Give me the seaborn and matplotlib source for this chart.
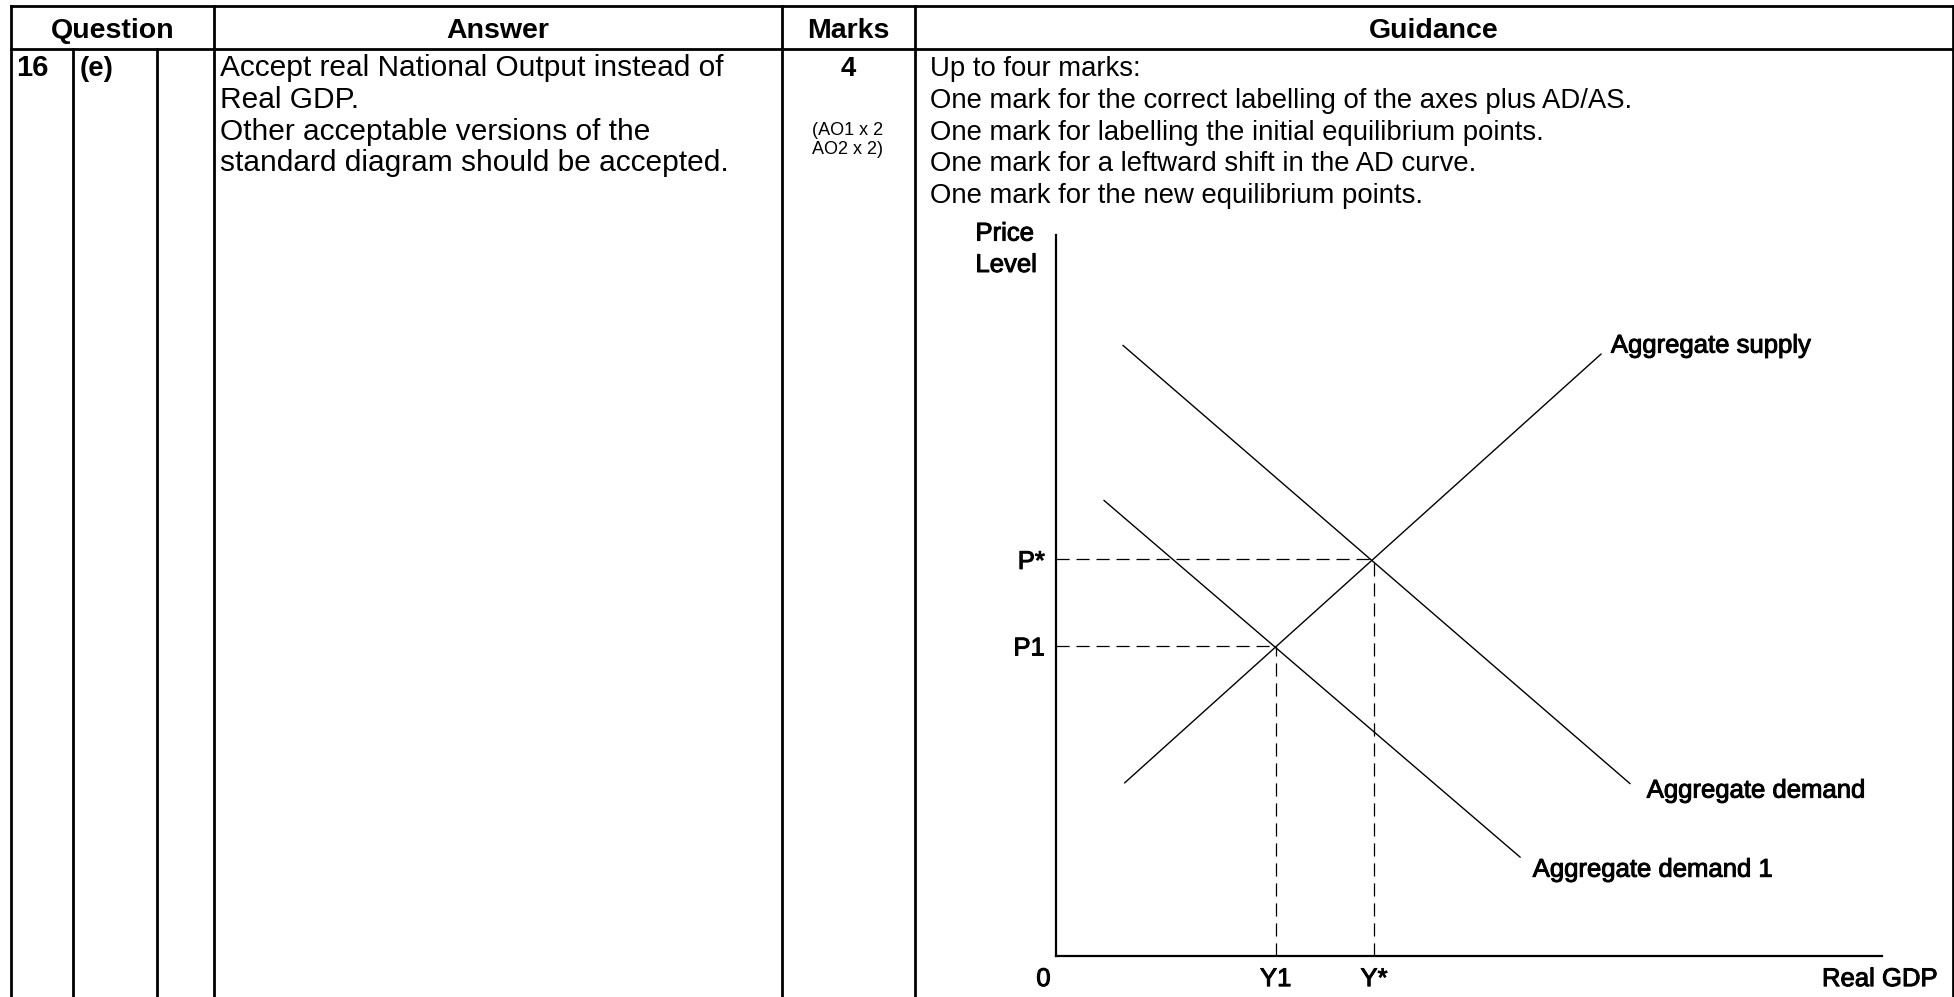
import numpy as np
import pandas as pd
import matplotlib
matplotlib.use("Agg")
import matplotlib.pyplot as plt
import matplotlib.patheffects as pe
import seaborn as sns

# ---------------- data ----------------
header_labels = ["Question", "Answer", "Marks", "Guidance"]
question_number = "16"
question_part = "(e)"
answer_lines = [
    "Accept real National Output instead of",
    "Real GDP.",
    "Other acceptable versions of the",
    "standard diagram should be accepted.",
]
marks_value = "4"
marks_breakdown = ["(AO1 x 2", "AO2 x 2)"]
guidance_lines = [
    "Up to four marks:",
    "One mark for the correct labelling of the axes plus AD/AS.",
    "One mark for labelling the initial equilibrium points.",
    "One mark for a leftward shift in the AD curve.",
    "One mark for the new equilibrium points.",
]

curve_names = ["Aggregate supply", "Aggregate demand", "Aggregate demand 1"]
curve_x = [[8.3, 66.0], [8.1, 69.5], [5.8, 56.2]]
curve_y = [[24.0, 83.5], [84.7, 23.9], [63.2, 13.7]]
price_levels = [43.0, 55.0]      # P1, P*
price_labels = ["P1", "P*"]
output_levels = [26.6, 38.5]     # Y1, Y*
output_labels = ["Y1", "Y*"]
y_axis_label = ["Price", "Level"]
x_axis_label = "Real GDP"
origin_label = "0"

# ---------------- style ----------------
sns.set_theme(style="white", rc={
    "text.color": "black", "axes.labelcolor": "black",
    "xtick.color": "black", "ytick.color": "black",
    "axes.edgecolor": "black",
})
plt.rcParams["font.family"] = ["Liberation Sans", "DejaVu Sans"]

W, H = 1954, 997
fig = plt.figure(figsize=(W / 100, H / 100), dpi=100)
fig.patch.set_facecolor("white")

# layout axes in pixel units (table frame and text)
lay = fig.add_axes([0, 0, 1, 1])
lay.set_xlim(0, W)
lay.set_ylim(H, 0)
lay.axis("off")

lw_t = 2.0
x_left, x_q1, x_q2, x_ans, x_marks, x_guid, x_right = 11, 73, 157, 214, 782, 915, 1952.5
top_y, head_y = 6, 49
for yy in (top_y, head_y):
    lay.plot([x_left, x_right], [yy, yy], color="black", lw=lw_t, solid_capstyle="projecting")
for xx in (x_left, x_ans, x_marks, x_guid, x_right):
    lay.plot([xx, xx], [top_y, H], color="black", lw=lw_t, solid_capstyle="projecting")
for xx in (x_q1, x_q2):
    lay.plot([xx, xx], [head_y, H], color="black", lw=lw_t)

FS = 19.8
FS_ANS = 21.5
FS_HEAD = 20.5
head_centers = [(x_left + x_ans) / 2, (x_ans + x_marks) / 2, (x_marks + x_guid) / 2, (x_guid + x_right) / 2]
for cx, lab in zip(head_centers, header_labels):
    lay.text(cx, 38, lab, ha="center", va="baseline", fontsize=FS_HEAD, fontweight="bold")

base0, step = 76, 31.8
lay.text(16, base0, question_number, ha="left", va="baseline", fontsize=21, fontweight="bold")
lay.text(80, base0, question_part, ha="left", va="baseline", fontsize=FS, fontweight="bold")
for i, line in enumerate(answer_lines):
    lay.text(220, base0 + i * step, line, ha="left", va="baseline", fontsize=FS_ANS)
lay.text((x_marks + x_guid) / 2, base0, marks_value, ha="center", va="baseline", fontsize=FS, fontweight="bold")
for i, line in enumerate(marks_breakdown):
    lay.text(848, 135 + i * 19, line, ha="center", va="baseline", fontsize=13)
for i, line in enumerate(guidance_lines):
    lay.text(930, base0 + i * step, line, ha="left", va="baseline", fontsize=FS)

# ---------------- AD/AS diagram ----------------
ax_l, ax_b, ax_r, ax_t = 1056, 956, 1882, 235
ax = fig.add_axes([ax_l / W, (H - ax_b) / H, (ax_r - ax_l) / W, (ax_b - ax_t) / H])
ax.set_facecolor("none")

rows = []
for name, xs, ys in zip(curve_names, curve_x, curve_y):
    for xv, yv in zip(xs, ys):
        rows.append({"curve": name, "x": xv, "y": yv})
df = pd.DataFrame(rows)
sns.lineplot(data=df, x="x", y="y", hue="curve", palette=["black"] * 3,
             legend=False, ax=ax, sort=False, estimator=None, lw=1.0)

dash = (0, (10.5, 5.5))
for p, yv in zip(price_levels, output_levels):
    ax.plot([0, yv], [p, p], color="black", lw=0.9, linestyle=dash)
    ax.plot([yv, yv], [0, p], color="black", lw=0.9, linestyle=dash)

ax.set_xlim(0, 100)
ax.set_ylim(0, 100)
ax.set_xlabel("")
ax.set_ylabel("")
sns.despine(ax=ax)
for s in ("left", "bottom"):
    ax.spines[s].set_linewidth(1.6)
    ax.spines[s].set_color("black")

DFS = 18.5
bold_fx = [pe.withStroke(linewidth=0.7, foreground="black")]
ax.set_yticks(price_levels, price_labels)
ax.set_xticks(output_levels, output_labels)
ax.tick_params(length=0, pad=8, labelsize=DFS)
for t in ax.get_xticklabels() + ax.get_yticklabels():
    t.set_path_effects(bold_fx)

offsets = [(7, 6), (12, -5), (9, -9)]
for name, xs, ys, off in zip(curve_names, curve_x, curve_y, offsets):
    i_end = int(np.argmax(xs))
    ax.annotate(name, xy=(xs[i_end], ys[i_end]), xytext=off, textcoords="offset points",
                ha="left", va="center", fontsize=DFS, path_effects=bold_fx)

ax.annotate(y_axis_label[0], xy=(0, 1), xycoords="axes fraction", xytext=(-58, 1),
            textcoords="offset points", ha="left", va="center", fontsize=DFS,
            annotation_clip=False, path_effects=bold_fx)
ax.annotate(y_axis_label[1], xy=(0, 1), xycoords="axes fraction", xytext=(-58, -21.6),
            textcoords="offset points", ha="left", va="center", fontsize=DFS,
            annotation_clip=False, path_effects=bold_fx)
ax.annotate(origin_label, xy=(0, 0), xycoords="axes fraction", xytext=(-9, -8),
            textcoords="offset points", ha="center", va="top", fontsize=DFS,
            annotation_clip=False, path_effects=bold_fx)
ax.annotate(x_axis_label, xy=(1, 0), xycoords="axes fraction", xytext=(40.3, -8),
            textcoords="offset points", ha="right", va="top", fontsize=DFS,
            annotation_clip=False, path_effects=bold_fx)

fig.savefig("out.png", dpi=100, facecolor="white")
